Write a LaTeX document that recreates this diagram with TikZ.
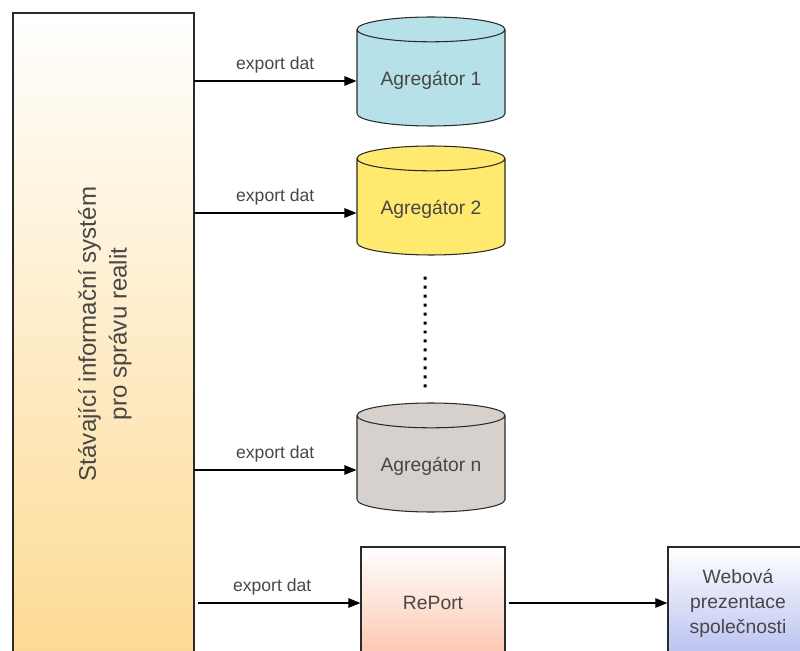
\documentclass[tikz,border=0pt]{standalone}
\usepackage{fontspec}
\setmainfont{Liberation Sans}
\usepackage{tikz}
\usetikzlibrary{shapes.geometric,arrows.meta}

\definecolor{txtgray}{HTML}{474747}
\definecolor{linegray}{HTML}{2A2A2A}
\definecolor{aggcyan}{HTML}{B6E1E8}
\definecolor{aggyellow}{HTML}{FFE96E}
\definecolor{agggray}{HTML}{D6D1CD}
\definecolor{sysorange}{HTML}{FDDA93}
\definecolor{repsalmon}{HTML}{FCC5AE}
\definecolor{weblilac}{HTML}{B7C0F1}

\begin{document}
\begin{tikzpicture}[x=0.02cm,y=-0.02cm,
	every node/.style={text=txtgray},
	agg/.style={shape=cylinder,shape border rotate=90,draw=linegray,line width=0.6pt,
		aspect=0.22,minimum width=2.96cm,minimum height=2.18cm,anchor=shape center,
		font=\fontsize{11}{13}\selectfont},
	box/.style={draw=linegray,line width=0.7pt,shading=axis,top color=white,align=center},
	arr/.style={-{Triangle[length=2.4mm,width=1.9mm]},draw=black,line width=0.6pt},
	lbl/.style={above,font=\fontsize{10}{12}\selectfont,yshift=1pt}]
	\clip (0,0) rectangle (800,651);
	% system on the left
	\node[box,bottom color=sysorange,minimum width=3.62cm,minimum height=12.84cm] (sys) at (103.5,334) {};
	\node[rotate=90,align=center,font=\fontsize{13.7}{17.5}\selectfont] (systext) at (105,334) {Stávající informační systém\\pro správu realit};
	% aggregators
	\node[agg,fill=aggcyan] (a1) at (431,71.5) {Agregátor 1};
	\node[agg,fill=aggyellow] (a2) at (431,200.5) {Agregátor 2};
	\node[agg,fill=agggray] (an) at (431,457.5) {Agregátor n};
	\node[box,bottom color=repsalmon,minimum width=2.88cm,minimum height=2.24cm,font=\fontsize{11}{13}\selectfont] (rep) at (433,603) {RePort};
	\node[box,bottom color=weblilac,minimum width=2.8cm,minimum height=2.24cm,font=\fontsize{11}{14.2}\selectfont] (web) at (738,603) {Webová\\prezentace\\společnosti};
	\coordinate (e1) at (194,81);
	\coordinate (e2) at (194,213);
	\coordinate (en) at (194,470);
	\coordinate (e4) at (198,603);
	\path (e1) edge[arr] node[lbl] {export dat} (a1.west |- e1);
	\path (e2) edge[arr] node[lbl] {export dat} (a2.west |- e2);
	\path (en) edge[arr] node[lbl] {export dat} (an.west |- en);
	\path (e4) edge[arr] node[lbl,xshift=-4pt] {export dat} (rep);
	\path ([xshift=0.6mm]rep.east) edge[arr] (web);
	% dots between aggregators
	\draw[line width=0.6mm,dash pattern=on 0.6mm off 1.2mm,shorten <=4.2mm,shorten >=2.8mm]
		([xshift=-1.2mm]a2.south) -- ([xshift=-1.2mm]an.north);
\end{tikzpicture}
\end{document}
